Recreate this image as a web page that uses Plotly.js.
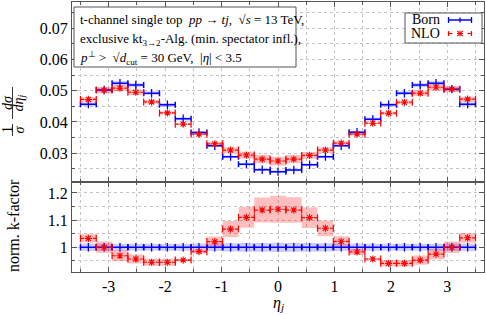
<!DOCTYPE html>
<html><head><meta charset="utf-8">
<script src="https://cdn.plot.ly/plotly-3.0.1.min.js"></script>
<style>html,body{margin:0;padding:0;background:#fff;} #chart{width:486px;height:315px;}</style>
</head><body><div id="chart"></div>
<script>
// ---- data ----
const etaCenters = [-3.36, -3.08, -2.80, -2.52, -2.24, -1.96, -1.68, -1.40, -1.12, -0.84, -0.56, -0.28, 0, 0.28, 0.56, 0.84, 1.12, 1.40, 1.68, 1.96, 2.24, 2.52, 2.80, 3.08, 3.36];
const binHalfWidth = 0.14;
const born = [0.0457, 0.0502, 0.0524, 0.0518, 0.0492, 0.0455, 0.0410, 0.0366, 0.0324, 0.0289, 0.0265, 0.0247, 0.0241, 0.0246, 0.0263, 0.0289, 0.0324, 0.0367, 0.0409, 0.0455, 0.0492, 0.0518, 0.0524, 0.0505, 0.0457];
const bornErr = [0.0006, 0.0007, 0.0007, 0.0007, 0.0006, 0.0006, 0.0005, 0.0005, 0.0004, 0.0004, 0.0004, 0.0004, 0.0004, 0.0004, 0.0004, 0.0004, 0.0004, 0.0005, 0.0005, 0.0006, 0.0006, 0.0007, 0.0007, 0.0007, 0.0006];
const nlo = [0.0472, 0.0502, 0.0508, 0.0495, 0.0464, 0.0429, 0.0393, 0.0361, 0.0330, 0.0310, 0.0294, 0.0281, 0.0275, 0.0281, 0.0293, 0.0310, 0.0332, 0.0361, 0.0396, 0.0428, 0.0463, 0.0492, 0.0511, 0.0505, 0.0473];
const nloErr = [0.0007, 0.0010, 0.0010, 0.00085, 0.0006, 0.00055, 0.00015, 0.00025, 0.0006, 0.0009, 0.0011, 0.0013, 0.0014, 0.0013, 0.0011, 0.0009, 0.0006, 0.0004, 0.00015, 0.0005, 0.00055, 0.0008, 0.0010, 0.0010, 0.0008];
const bornNorm = [1, 1, 1, 1, 1, 1, 1, 1, 1, 1, 1, 1, 1, 1, 1, 1, 1, 1, 1, 1, 1, 1, 1, 1, 1];
const bornNormErr = [0.014, 0.014, 0.013, 0.013, 0.013, 0.013, 0.013, 0.014, 0.014, 0.015, 0.016, 0.016, 0.017, 0.016, 0.016, 0.015, 0.014, 0.014, 0.013, 0.013, 0.013, 0.013, 0.013, 0.014, 0.014];
const kFactor = [1.033, 1.000, 0.969, 0.957, 0.945, 0.945, 0.953, 0.984, 1.021, 1.067, 1.110, 1.137, 1.140, 1.137, 1.109, 1.070, 1.022, 0.983, 0.957, 0.941, 0.941, 0.953, 0.975, 1.000, 1.035];
const kFactorErr = [0.015, 0.021, 0.020, 0.017, 0.013, 0.013, 0.004, 0.007, 0.019, 0.030, 0.038, 0.046, 0.050, 0.047, 0.038, 0.029, 0.019, 0.011, 0.004, 0.012, 0.012, 0.017, 0.020, 0.021, 0.018];
const xTickVals = [-3, -2, -1, 0, 1, 2, 3];
const xTickText = ['-3', '-2', '-1', '0', '1', '2', '3'];
const topTickVals = [0.03, 0.04, 0.05, 0.06, 0.07];
const topTickText = ['0.03', '0.04', '0.05', '0.06', '0.07'];
const botTickVals = [1, 1.1, 1.2];
const botTickText = ['1', '1.1', '1.2'];

// ---- geometry helpers ----
const W = 486, H = 315, mL = 72, mR = 2, mT = 2, mB = 43;
const plotW = W - mL - mR, plotH = H - mT - mB;
const px = x => (x - mL) / plotW;
const py = y => (H - mB - y) / plotH;
const botTop = py(181.7);
const FONT = 'Liberation Serif, Times New Roman, serif';
const BLUE = '#0000ff', RED = '#ff0000', FRAME = '#555555', GRID = '#c4c4c4';

function bandTrace(vals, errs, color, xa, ya) {
  return {type: 'bar', x: etaCenters, base: vals.map((v, i) => v - errs[i]), y: errs.map(e => 2 * e),
    width: 2 * binHalfWidth, marker: {color: color, line: {width: 0}}, xaxis: xa, yaxis: ya,
    hoverinfo: 'skip', showlegend: false};
}
function bornTrace(vals, xa, ya) {
  return {type: 'scatter', mode: 'markers', x: etaCenters, y: vals, xaxis: xa, yaxis: ya,
    marker: {symbol: 'line-ns-open', size: 6, color: BLUE, line: {color: BLUE, width: 1.3}},
    error_x: {type: 'constant', value: binHalfWidth, color: BLUE, thickness: 1.5, width: 3},
    showlegend: false, hoverinfo: 'skip'};
}
function nloTraces(vals, xa, ya) {
  const sx = [], sy = [], cx = [], cy = [];
  const seg = 0.06;
  etaCenters.forEach((c, i) => {
    const l = c - binHalfWidth, r = c + binHalfWidth;
    sx.push(l, l + seg, null, r - seg, r, null);
    sy.push(vals[i], vals[i], null, vals[i], vals[i], null);
    cx.push(l, r); cy.push(vals[i], vals[i]);
  });
  return [
    {type: 'scatter', mode: 'lines', x: sx, y: sy, xaxis: xa, yaxis: ya, line: {color: RED, width: 1.2},
      connectgaps: false, showlegend: false, hoverinfo: 'skip'},
    {type: 'scatter', mode: 'markers', x: cx, y: cy, xaxis: xa, yaxis: ya,
      marker: {symbol: 'line-ns-open', size: 5, color: RED, line: {color: RED, width: 1.2}}, showlegend: false, hoverinfo: 'skip'},
    {type: 'scatter', mode: 'markers', x: etaCenters, y: vals, xaxis: xa, yaxis: ya,
      marker: {symbol: 'asterisk-open', size: 6, color: RED, line: {color: RED, width: 1.1}}, showlegend: false, hoverinfo: 'skip'}
  ];
}

const data = [
  bandTrace(born, bornErr, 'rgba(0,0,255,0.18)', 'x2', 'y2'),
  bandTrace(nlo, nloErr, 'rgba(255,0,0,0.25)', 'x2', 'y2'),
  bandTrace(bornNorm, bornNormErr, 'rgba(0,0,255,0.2)', 'x', 'y'),
  bandTrace(kFactor, kFactorErr, 'rgba(255,0,0,0.25)', 'x', 'y'),
  bornTrace(born, 'x2', 'y2'),
  ...nloTraces(nlo, 'x2', 'y2'),
  bornTrace(bornNorm, 'x', 'y'),
  ...nloTraces(kFactor, 'x', 'y')
];

const common = {showline: true, linecolor: FRAME, linewidth: 1, mirror: 'ticks', ticks: 'inside', ticklen: 5,
  tickcolor: FRAME, tickwidth: 1, showgrid: true, gridcolor: GRID, griddash: 'dot', gridwidth: 1, zeroline: false,
  tickfont: {family: FONT, size: 16, color: '#000'}, tickmode: 'array'};
const minorX = {tickmode: 'linear', tick0: 0, dtick: 0.5, ticks: 'inside', ticklen: 3, tickcolor: FRAME, showgrid: true, gridcolor: GRID, griddash: 'dot'};

const shapes = [];
function seg(x0, y0, x1, y1, color, w) {
  shapes.push({type: 'line', xref: 'paper', yref: 'paper', x0: px(x0), y0: py(y0), x1: px(x1), y1: py(y1), line: {color: color, width: w}});
}
// info box
shapes.push({type: 'rect', xref: 'paper', yref: 'paper', x0: px(74), x1: px(296), y0: py(7), y1: py(67), fillcolor: '#fff', line: {color: FRAME, width: 1}});
// legend box
shapes.push({type: 'rect', xref: 'paper', yref: 'paper', x0: px(405), x1: px(482), y0: py(13), y1: py(43), fillcolor: '#fff', line: {color: FRAME, width: 1}});
// legend samples
seg(448.5, 20, 471.5, 20, BLUE, 1.5); seg(448.5, 17, 448.5, 23, BLUE, 1.3); seg(471.5, 17, 471.5, 23, BLUE, 1.3); seg(460, 17.5, 460, 22.5, BLUE, 1.3);
seg(448.5, 31, 448.5, 36, RED, 1.2); seg(448.5, 33.5, 452.5, 33.5, RED, 1.2); seg(467.5, 33.5, 471.5, 33.5, RED, 1.2); seg(471.5, 31, 471.5, 36, RED, 1.2);
seg(460, 30.5, 460, 36.5, RED, 1.1); seg(457.2, 30.8, 462.8, 36.2, RED, 1.1); seg(457.2, 36.2, 462.8, 30.8, RED, 1.1); seg(457, 33.5, 463, 33.5, RED, 1.1);
// fraction bars for y label
seg(12.5, 124, 12.5, 136, '#000', 0.8); seg(12.5, 87, 12.5, 119, '#000', 0.8);

const ann = [];
function txt(x, y, t, size, opts) {
  ann.push(Object.assign({xref: 'paper', yref: 'paper', x: px(x), y: py(y), text: t, showarrow: false,
    font: {family: FONT, size: size, color: '#000'}, xanchor: 'center', yanchor: 'middle'}, opts || {}));
}
txt(78, 20, 't-channel single top\u00a0\u00a0<i>pp</i> → <i>tj</i>,\u00a0\u00a0√<i>s</i> = 13 TeV,', 13, {xanchor: 'left'});
txt(78, 39, 'exclusive kt<sub>3→2</sub>-Alg. (min. spectator infl.),', 13, {xanchor: 'left'});
txt(78, 58, '<i>p</i><sup>⊥</sup> &gt;\u00a0\u00a0√<i>d</i><sub>cut</sub> = 30 GeV,\u00a0\u00a0|<i>η</i>| &lt; 3.5', 13, {xanchor: 'left'});
txt(442, 20, 'Born', 14, {xanchor: 'right'});
txt(442, 34, 'NLO', 14, {xanchor: 'right'});
txt(7, 130, '1', 14, {textangle: -90});
txt(18.5, 130, '<i>σ</i>', 14, {textangle: -90});
txt(7, 103, '<i>dσ</i>', 14, {textangle: -90});
txt(18.5, 103, '<i>dη<sub>j</sub></i>', 14, {textangle: -90});
txt(13, 226, 'norm. k-factor', 16, {textangle: -90});
txt(278, 315, '<i>η<sub>j</sub></i>', 16, {yanchor: 'bottom'});

const layout = {
  width: W, height: H, margin: {l: mL, r: mR, t: mT, b: mB}, paper_bgcolor: '#fff', plot_bgcolor: '#fff',
  showlegend: false, barmode: 'overlay', hovermode: false,
  xaxis: Object.assign({}, common, {range: [-3.65, 3.65], tickvals: xTickVals, ticktext: xTickText, minor: minorX, anchor: 'y', domain: [0, 1]}),
  yaxis: Object.assign({}, common, {range: [0.9092, 1.2412], tickvals: botTickVals, ticktext: botTickText, domain: [0, botTop], anchor: 'x',
    minor: {tickmode: 'linear', tick0: 1, dtick: 0.05, ticks: 'inside', ticklen: 3, tickcolor: FRAME, showgrid: true, gridcolor: GRID, griddash: 'dot'}}),
  xaxis2: Object.assign({}, common, {range: [-3.65, 3.65], tickvals: xTickVals, ticktext: xTickText, minor: minorX, anchor: 'y2', matches: 'x', showticklabels: false}),
  yaxis2: Object.assign({}, common, {range: [0.02088, 0.07838], tickvals: topTickVals, ticktext: topTickText, domain: [botTop, 1], anchor: 'x2',
    minor: {tickmode: 'linear', tick0: 0, dtick: 0.005, ticks: 'inside', ticklen: 3, tickcolor: FRAME, showgrid: true, gridcolor: GRID, griddash: 'dot'}}),
  shapes: shapes, annotations: ann
};
Plotly.newPlot('chart', data, layout, {staticPlot: true, displayModeBar: false});
</script></body></html>
